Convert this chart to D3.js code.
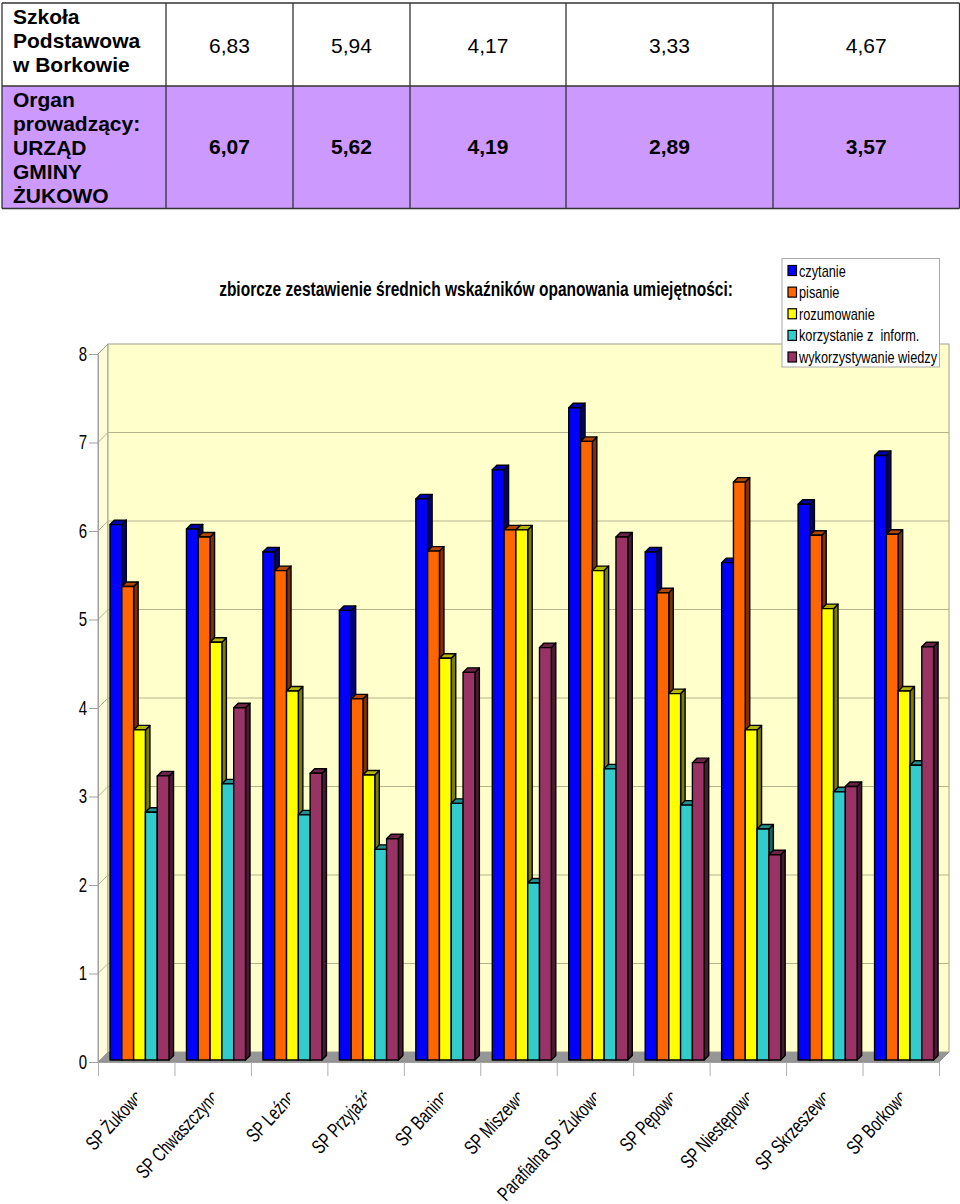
<!DOCTYPE html>
<html><head><meta charset="utf-8">
<script src="https://cdn.jsdelivr.net/npm/d3@7/dist/d3.min.js"></script>
<style>html,body{margin:0;padding:0;background:#fff}svg{display:block}
text{fill:#000}.n,.a{font-family:"Liberation Sans",Arial,sans-serif}</style>
</head><body><svg id="c" width="960" height="1204"></svg>
<script>
const categories=["SP Żukowo","SP Chwaszczyno","SP Leźno","SP Przyjaźń","SP Banino","SP Miszewo","Parafialna SP Żukowo","SP Pępowo","SP Niestępowo","SP Skrzeszewo","SP Borkowo"];
const seriesNames=["czytanie","pisanie","rozumowanie","korzystanie z  inform.","wykorzystywanie wiedzy"];
const czytanie=[6.05,6.00,5.74,5.08,6.34,6.67,7.37,5.74,5.62,6.28,6.83];
const pisanie=[5.35,5.91,5.53,4.08,5.75,5.99,6.99,5.28,6.53,5.93,5.94];
const rozumowanie=[3.73,4.72,4.17,3.22,4.54,5.99,5.53,4.14,3.73,5.10,4.17];
const korzystanie=[2.80,3.12,2.77,2.38,2.90,2.00,3.29,2.88,2.61,3.03,3.33];
const wykorzystywanie=[3.21,3.98,3.24,2.50,4.38,4.66,5.91,3.36,2.32,3.09,4.67];
const seriesValues=[czytanie,pisanie,rozumowanie,korzystanie,wykorzystywanie];
const seriesColors=["#0000ff","#ff6600","#ffff00","#33cccc","#993366"];
const yTicks=[0,1,2,3,4,5,6,7,8];
const tableLabels=[["Szkoła","Podstawowa","w Borkowie"],["Organ","prowadzący:","URZĄD","GMINY","ŻUKOWO"]];
const tableValues=[["6,83","5,94","4,17","3,33","4,67"],["6,07","5,62","4,19","2,89","3,57"]];
const title="zbiorcze zestawienie średnich wskaźników opanowania umiejętności:";

const svg=d3.select("#c");
/* table */
const colX=[2,166,293,410,566,773,959.5], rowY=[3,86,208.5], rowFill=["#ffffff","#cc99ff"];
const tg=svg.append("g");
rowFill.forEach((f,r)=>{
  tg.append("rect").attr("x",colX[0]).attr("y",rowY[r]).attr("width",colX[6]-colX[0]).attr("height",rowY[r+1]-rowY[r]).attr("fill",f);
  tableLabels[r].forEach((t,i)=>tg.append("text").attr("class","a").attr("x",13).attr("y",rowY[r]+21+i*24).attr("font-size",21).attr("font-weight","bold").text(t));
  tableValues[r].forEach((t,i)=>tg.append("text").attr("class","a").attr("x",(colX[i+1]+colX[i+2])/2).attr("y",rowY[r]+(r?68:49.5)).attr("text-anchor","middle").attr("font-size",21).attr("font-weight",r?"bold":"normal").text(t));
});
rowY.forEach(y=>tg.append("line").attr("x1",colX[0]).attr("x2",colX[6]).attr("y1",y).attr("y2",y).attr("stroke","#333").attr("stroke-width",1.3));
colX.forEach(x=>tg.append("line").attr("x1",x).attr("x2",x).attr("y1",rowY[0]).attr("y2",rowY[2]).attr("stroke","#333").attr("stroke-width",1.3));

/* chart */
const dW=10,dH=10,left=98,right=939;
const y=d3.scaleLinear().domain([0,8]).range([1062,354]);
const xEdge=d3.scaleLinear().domain([0,categories.length]).range([left,right]);
const x0=d3.scaleBand().domain(categories).range([left+3.3,right+3.3]).paddingInner(.228).paddingOuter(.114);
const x1=d3.scaleBand().domain(seriesNames).range([0,x0.bandwidth()]);
const P=a=>a.map(p=>p.join(",")).join(" ");
const walls=svg.append("g");
walls.append("polygon").attr("points",P([[left,y(0)],[left+dW,y(0)-dH],[right+dW,y(0)-dH],[right,y(0)]])).attr("fill","#969696").attr("stroke","#8c8c8c");
walls.append("polygon").attr("points",P([[left,y(0)],[left+dW,y(0)-dH],[left+dW,y(8)-dH],[left,y(8)]])).attr("fill","#fdfdd8").attr("stroke","#a0a090");
walls.append("rect").attr("x",left+dW).attr("y",y(8)-dH).attr("width",right-left).attr("height",y(0)-y(8)).attr("fill","#ffffcc").attr("stroke","#a0a090");
yTicks.slice(1,8).forEach(t=>{
  walls.append("line").attr("x1",left+dW).attr("x2",right+dW).attr("y1",y(t)-dH).attr("y2",y(t)-dH).attr("stroke","#b4b48c");
  walls.append("line").attr("x1",left).attr("x2",left+dW).attr("y1",y(t)).attr("y2",y(t)-dH).attr("stroke","#b4b48c");
});
const ay=svg.append("g").attr("transform",`translate(${left},0)`).call(d3.axisLeft(y).tickValues(yTicks).tickSize(9).tickSizeOuter(0).tickPadding(3));
ay.select(".domain").attr("stroke","#a0a0a0");ay.selectAll("line").attr("stroke","#a0a0a0");
ay.selectAll("text").attr("class","n").attr("font-size",20).style("fill","#000").attr("font-family",null).attr("x",0).attr("transform","translate(-11,0) scale(.75,1)");
const ax=svg.append("g").attr("transform",`translate(0,${y(0)})`).call(d3.axisBottom(xEdge).tickValues(d3.range(categories.length+1)).tickSize(14).tickSizeOuter(0).tickFormat(""));
ax.select(".domain").attr("stroke","#a0a0a0");ax.selectAll("line").attr("stroke","#b0b0b0");
const bd=4.5, base=y(0)-2;
const groups=svg.append("g").selectAll("g").data(categories).join("g").attr("transform",d=>`translate(${x0(d)},0)`);
groups.each(function(cat,ci){
  const g=d3.select(this);
  seriesNames.forEach((s,si)=>{
    const v=seriesValues[si][ci],X=x1(s),W=x1.bandwidth(),T=base-(y(0)-y(v));
    const st={stroke:"#000","stroke-width":1.4,"stroke-linejoin":"round"};
    const add=(el)=>{Object.entries(st).forEach(([k,u])=>el.attr(k,u));return el;};
    add(g.append("polygon").attr("points",P([[X+W,T],[X+W+bd,T-bd],[X+W+bd,base-bd],[X+W,base]])).attr("fill",d3.rgb(seriesColors[si]).darker(2).formatHex()));
    add(g.append("polygon").attr("points",P([[X,T],[X+bd,T-bd],[X+W+bd,T-bd],[X+W,T]])).attr("fill",d3.rgb(seriesColors[si]).darker(1).formatHex()));
    add(g.append("rect").attr("x",X).attr("y",T).attr("width",W).attr("height",base-T).attr("fill",seriesColors[si]));
  });
});
const defs=svg.append("defs");
categories.forEach((c,i)=>{
  const cx=(xEdge(i)+xEdge(i+1))/2+1;
  defs.append("clipPath").attr("id","cl"+i).append("rect").attr("x",cx-160).attr("y",1090).attr("width",160).attr("height",114);
  svg.append("g").attr("clip-path",`url(#cl${i})`).append("text").attr("class","n").attr("font-size",20)
    .attr("text-anchor","end").attr("transform",`translate(${cx+7},1098) rotate(-47) scale(.72,1)`).text(c);
});
svg.append("text").attr("class","n").attr("text-anchor","middle").attr("font-size",20).attr("font-weight","bold").attr("transform","translate(476,296) scale(.776,1)").text(title);
const lg=svg.append("g");
lg.append("rect").attr("x",782).attr("y",258.5).attr("width",157.5).attr("height",108.5).attr("fill","#fff").attr("stroke","#aaa");
const ly=d3.scalePoint().domain(seriesNames).range([270.5,357]);
seriesNames.forEach((s,i)=>{
  lg.append("rect").attr("x",788).attr("y",ly(s)-5).attr("width",8.5).attr("height",10).attr("fill",seriesColors[i]).attr("stroke","#000").attr("stroke-width",1.2);
  lg.append("text").attr("class","n").attr("font-size",17).attr("transform",`translate(799,${ly(s)+6}) scale(.75,1)`).style("white-space","pre").text(s);
});
</script></body></html>
